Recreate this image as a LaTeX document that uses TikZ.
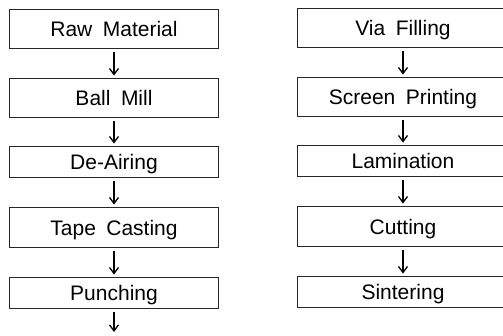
\documentclass[tikz,border=0pt]{standalone}
\usepackage{fontspec}
\setmainfont{Liberation Sans}[WordSpace=1.8]
\usetikzlibrary{arrows.meta}
\begin{document}
\begin{tikzpicture}[x=1pt,y=1pt,
  stepbox/.style={draw=black!85,line width=0.9pt,rectangle,inner sep=0pt,
    font=\fontsize{21}{21}\selectfont,text height=16.5pt,text depth=0pt},
  lbox/.style={stepbox,minimum width=209pt},
  rbox/.style={stepbox,minimum width=212pt},
  tall/.style={minimum height=39pt},
  short/.style={minimum height=31pt},
  arr/.style={draw=black,line width=1.3pt,-{Straight Barb[length=6pt,width=9pt,line width=1.3pt]},shorten <=4pt,shorten >=2pt}]
\useasboundingbox (0,0) rectangle (503,336);
\clip (0,0) rectangle (503,336);
% left column (y = 336 - image y)
\node[lbox,tall]  (raw)   at (114,307.5) {Raw Material};
\node[lbox,tall]  (ball)  at (114,238.5) {Ball Mill};
\node[lbox,short] (deair) at (114,174.5) {De-Airing};
\node[lbox,minimum height=40pt] (tape) at (114,109) {Tape Casting};
\node[lbox,short] (punch) at (114,43.5) {Punching};
\coordinate (end) at (114,2);
% right column
\node[rbox,tall]  (via)   at (403,308.5) {Via Filling};
\node[rbox,tall]  (scr)   at (403,239.5) {Screen Printing};
\node[rbox,short] (lam)   at (403,175.5) {Lamination};
\node[rbox,minimum height=40pt] (cut) at (403,110) {Cutting};
\node[rbox,short] (sint)  at (403,44.5) {Sintering};
% arrows
\draw[arr] (raw) -- (ball);
\draw[arr] (ball) -- (deair);
\draw[arr] (deair) -- (tape);
\draw[arr] (tape) -- (punch);
\draw[arr] (punch) -- (end);
\draw[arr] (via) -- (scr);
\draw[arr] (scr) -- (lam);
\draw[arr] (lam) -- (cut);
\draw[arr] (cut) -- (sint);
\end{tikzpicture}
\end{document}
